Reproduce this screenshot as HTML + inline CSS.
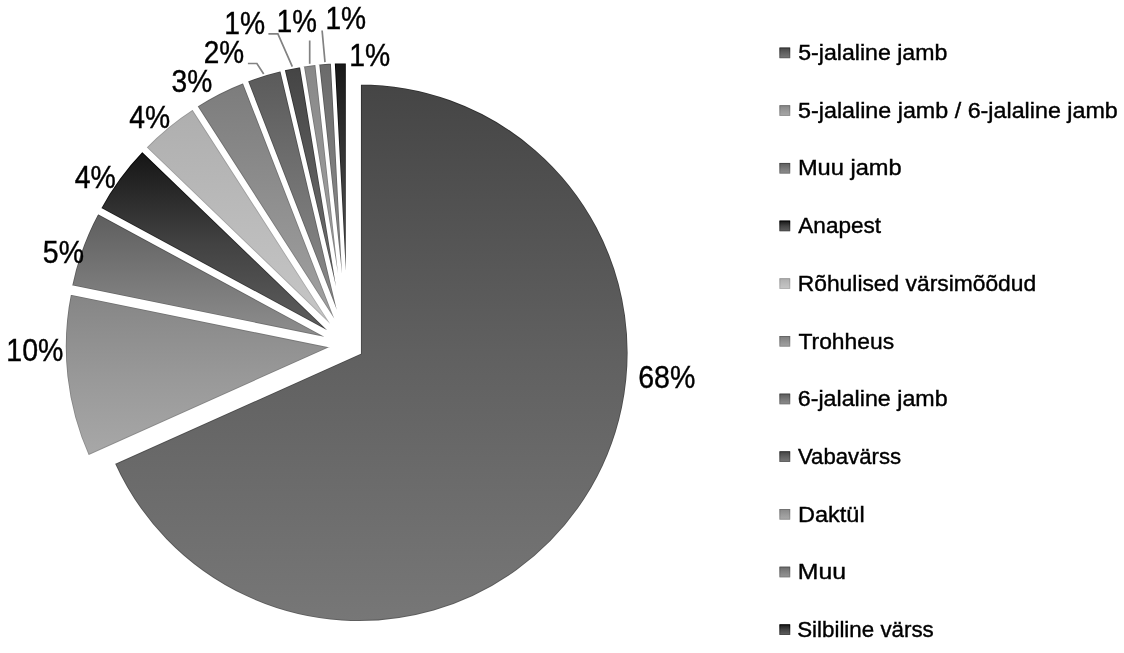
<!DOCTYPE html>
<html><head><meta charset="utf-8"><title>Värsimõõdud</title>
<style>
html,body{margin:0;padding:0;background:#fff}
svg{display:block}
text{font-family:"Liberation Sans",sans-serif;fill:#000}
</style></head><body>
<svg width="1124" height="653" viewBox="0 0 1124 653">
<defs><linearGradient id="g0" gradientUnits="userSpaceOnUse" x1="0" y1="82.85" x2="0" y2="622.55"><stop offset="0" stop-color="#454545"/><stop offset="0.5" stop-color="#606060"/><stop offset="1" stop-color="#777777"/></linearGradient><linearGradient id="r0" gradientUnits="userSpaceOnUse" x1="0" y1="82.85" x2="0" y2="622.55"><stop offset="0" stop-color="#2d2d2d"/><stop offset="0.5" stop-color="#484848"/><stop offset="1" stop-color="#5f5f5f"/></linearGradient><clipPath id="c0"><path d="M359.34 352.70L359.34 82.85A269.85 269.85 0 1 1 113.11 463.10Z"/></clipPath><linearGradient id="g1" gradientUnits="userSpaceOnUse" x1="0" y1="292.92" x2="0" y2="457.12"><stop offset="0" stop-color="#858585"/><stop offset="0.5" stop-color="#989898"/><stop offset="1" stop-color="#a8a8a8"/></linearGradient><linearGradient id="r1" gradientUnits="userSpaceOnUse" x1="0" y1="292.92" x2="0" y2="457.12"><stop offset="0" stop-color="#6d6d6d"/><stop offset="0.5" stop-color="#808080"/><stop offset="1" stop-color="#909090"/></linearGradient><clipPath id="c1"><path d="M334.04 346.72L87.81 457.12A269.85 269.85 0 0 1 69.61 292.92Z"/></clipPath><linearGradient id="g2" gradientUnits="userSpaceOnUse" x1="0" y1="212.14" x2="0" y2="340.49"><stop offset="0" stop-color="#5d5d5d"/><stop offset="0.5" stop-color="#777777"/><stop offset="1" stop-color="#8f8f8f"/></linearGradient><linearGradient id="r2" gradientUnits="userSpaceOnUse" x1="0" y1="212.14" x2="0" y2="340.49"><stop offset="0" stop-color="#454545"/><stop offset="0.5" stop-color="#5f5f5f"/><stop offset="1" stop-color="#777777"/></linearGradient><clipPath id="c2"><path d="M334.79 340.49L70.36 286.69A269.85 269.85 0 0 1 97.41 212.14Z"/></clipPath><linearGradient id="g3" gradientUnits="userSpaceOnUse" x1="0" y1="149.94" x2="0" y2="337.06"><stop offset="0" stop-color="#141414"/><stop offset="0.5" stop-color="#424242"/><stop offset="1" stop-color="#606060"/></linearGradient><linearGradient id="r3" gradientUnits="userSpaceOnUse" x1="0" y1="149.94" x2="0" y2="337.06"><stop offset="0" stop-color="#000000"/><stop offset="0.5" stop-color="#2a2a2a"/><stop offset="1" stop-color="#484848"/></linearGradient><clipPath id="c3"><path d="M336.62 337.06L99.24 208.71A269.85 269.85 0 0 1 142.18 149.94Z"/></clipPath><linearGradient id="g4" gradientUnits="userSpaceOnUse" x1="0" y1="107.59" x2="0" y2="334.54"><stop offset="0" stop-color="#aeaeae"/><stop offset="0.5" stop-color="#bbbbbb"/><stop offset="1" stop-color="#c7c7c7"/></linearGradient><linearGradient id="r4" gradientUnits="userSpaceOnUse" x1="0" y1="107.59" x2="0" y2="334.54"><stop offset="0" stop-color="#969696"/><stop offset="0.5" stop-color="#a3a3a3"/><stop offset="1" stop-color="#afafaf"/></linearGradient><clipPath id="c4"><path d="M339.00 334.54L144.56 147.43A269.85 269.85 0 0 1 193.01 107.59Z"/></clipPath><linearGradient id="g5" gradientUnits="userSpaceOnUse" x1="0" y1="81.31" x2="0" y2="332.90"><stop offset="0" stop-color="#7c7c7c"/><stop offset="0.5" stop-color="#909090"/><stop offset="1" stop-color="#a3a3a3"/></linearGradient><linearGradient id="r5" gradientUnits="userSpaceOnUse" x1="0" y1="81.31" x2="0" y2="332.90"><stop offset="0" stop-color="#646464"/><stop offset="0.5" stop-color="#787878"/><stop offset="1" stop-color="#8b8b8b"/></linearGradient><clipPath id="c5"><path d="M341.50 332.90L195.52 105.95A269.85 269.85 0 0 1 243.92 81.31Z"/></clipPath><linearGradient id="g6" gradientUnits="userSpaceOnUse" x1="0" y1="69.41" x2="0" y2="332.02"><stop offset="0" stop-color="#5a5a5a"/><stop offset="0.5" stop-color="#767676"/><stop offset="1" stop-color="#8e8e8e"/></linearGradient><linearGradient id="r6" gradientUnits="userSpaceOnUse" x1="0" y1="69.41" x2="0" y2="332.02"><stop offset="0" stop-color="#424242"/><stop offset="0.5" stop-color="#5e5e5e"/><stop offset="1" stop-color="#767676"/></linearGradient><clipPath id="c6"><path d="M343.67 332.02L246.08 80.43A269.85 269.85 0 0 1 281.59 69.41Z"/></clipPath><linearGradient id="g7" gradientUnits="userSpaceOnUse" x1="0" y1="65.38" x2="0" y2="331.67"><stop offset="0" stop-color="#444444"/><stop offset="0.5" stop-color="#606060"/><stop offset="1" stop-color="#787878"/></linearGradient><linearGradient id="r7" gradientUnits="userSpaceOnUse" x1="0" y1="65.38" x2="0" y2="331.67"><stop offset="0" stop-color="#2c2c2c"/><stop offset="0.5" stop-color="#484848"/><stop offset="1" stop-color="#606060"/></linearGradient><clipPath id="c7"><path d="M345.05 331.67L282.97 69.06A269.85 269.85 0 0 1 301.35 65.38Z"/></clipPath><linearGradient id="g8" gradientUnits="userSpaceOnUse" x1="0" y1="63.25" x2="0" y2="331.53"><stop offset="0" stop-color="#888888"/><stop offset="0.5" stop-color="#9a9a9a"/><stop offset="1" stop-color="#aaaaaa"/></linearGradient><linearGradient id="r8" gradientUnits="userSpaceOnUse" x1="0" y1="63.25" x2="0" y2="331.53"><stop offset="0" stop-color="#707070"/><stop offset="0.5" stop-color="#828282"/><stop offset="1" stop-color="#929292"/></linearGradient><clipPath id="c8"><path d="M345.90 331.53L302.19 65.24A269.85 269.85 0 0 1 316.75 63.25Z"/></clipPath><linearGradient id="g9" gradientUnits="userSpaceOnUse" x1="0" y1="61.97" x2="0" y2="331.44"><stop offset="0" stop-color="#6a6a6a"/><stop offset="0.5" stop-color="#828282"/><stop offset="1" stop-color="#969696"/></linearGradient><linearGradient id="r9" gradientUnits="userSpaceOnUse" x1="0" y1="61.97" x2="0" y2="331.44"><stop offset="0" stop-color="#525252"/><stop offset="0.5" stop-color="#6a6a6a"/><stop offset="1" stop-color="#7e7e7e"/></linearGradient><clipPath id="c9"><path d="M346.65 331.44L317.51 63.17A269.85 269.85 0 0 1 332.39 61.97Z"/></clipPath><linearGradient id="g10" gradientUnits="userSpaceOnUse" x1="0" y1="61.55" x2="0" y2="331.40"><stop offset="0" stop-color="#181818"/><stop offset="0.5" stop-color="#424242"/><stop offset="1" stop-color="#606060"/></linearGradient><linearGradient id="r10" gradientUnits="userSpaceOnUse" x1="0" y1="61.55" x2="0" y2="331.40"><stop offset="0" stop-color="#000000"/><stop offset="0.5" stop-color="#2a2a2a"/><stop offset="1" stop-color="#484848"/></linearGradient><clipPath id="c10"><path d="M347.40 331.40L333.13 61.93A269.85 269.85 0 0 1 347.40 61.55Z"/></clipPath><linearGradient id="m0" x1="0" y1="0" x2="0" y2="1"><stop offset="0" stop-color="#454545"/><stop offset="0.5" stop-color="#606060"/><stop offset="1" stop-color="#777777"/></linearGradient><linearGradient id="n0" x1="0" y1="0" x2="0" y2="1"><stop offset="0" stop-color="#2d2d2d"/><stop offset="0.5" stop-color="#484848"/><stop offset="1" stop-color="#5f5f5f"/></linearGradient><linearGradient id="m1" x1="0" y1="0" x2="0" y2="1"><stop offset="0" stop-color="#858585"/><stop offset="0.5" stop-color="#989898"/><stop offset="1" stop-color="#a8a8a8"/></linearGradient><linearGradient id="n1" x1="0" y1="0" x2="0" y2="1"><stop offset="0" stop-color="#6d6d6d"/><stop offset="0.5" stop-color="#808080"/><stop offset="1" stop-color="#909090"/></linearGradient><linearGradient id="m2" x1="0" y1="0" x2="0" y2="1"><stop offset="0" stop-color="#5d5d5d"/><stop offset="0.5" stop-color="#777777"/><stop offset="1" stop-color="#8f8f8f"/></linearGradient><linearGradient id="n2" x1="0" y1="0" x2="0" y2="1"><stop offset="0" stop-color="#454545"/><stop offset="0.5" stop-color="#5f5f5f"/><stop offset="1" stop-color="#777777"/></linearGradient><linearGradient id="m3" x1="0" y1="0" x2="0" y2="1"><stop offset="0" stop-color="#141414"/><stop offset="0.5" stop-color="#424242"/><stop offset="1" stop-color="#606060"/></linearGradient><linearGradient id="n3" x1="0" y1="0" x2="0" y2="1"><stop offset="0" stop-color="#000000"/><stop offset="0.5" stop-color="#2a2a2a"/><stop offset="1" stop-color="#484848"/></linearGradient><linearGradient id="m4" x1="0" y1="0" x2="0" y2="1"><stop offset="0" stop-color="#aeaeae"/><stop offset="0.5" stop-color="#bbbbbb"/><stop offset="1" stop-color="#c7c7c7"/></linearGradient><linearGradient id="n4" x1="0" y1="0" x2="0" y2="1"><stop offset="0" stop-color="#969696"/><stop offset="0.5" stop-color="#a3a3a3"/><stop offset="1" stop-color="#afafaf"/></linearGradient><linearGradient id="m5" x1="0" y1="0" x2="0" y2="1"><stop offset="0" stop-color="#7c7c7c"/><stop offset="0.5" stop-color="#909090"/><stop offset="1" stop-color="#a3a3a3"/></linearGradient><linearGradient id="n5" x1="0" y1="0" x2="0" y2="1"><stop offset="0" stop-color="#646464"/><stop offset="0.5" stop-color="#787878"/><stop offset="1" stop-color="#8b8b8b"/></linearGradient><linearGradient id="m6" x1="0" y1="0" x2="0" y2="1"><stop offset="0" stop-color="#5a5a5a"/><stop offset="0.5" stop-color="#767676"/><stop offset="1" stop-color="#8e8e8e"/></linearGradient><linearGradient id="n6" x1="0" y1="0" x2="0" y2="1"><stop offset="0" stop-color="#424242"/><stop offset="0.5" stop-color="#5e5e5e"/><stop offset="1" stop-color="#767676"/></linearGradient><linearGradient id="m7" x1="0" y1="0" x2="0" y2="1"><stop offset="0" stop-color="#444444"/><stop offset="0.5" stop-color="#606060"/><stop offset="1" stop-color="#787878"/></linearGradient><linearGradient id="n7" x1="0" y1="0" x2="0" y2="1"><stop offset="0" stop-color="#2c2c2c"/><stop offset="0.5" stop-color="#484848"/><stop offset="1" stop-color="#606060"/></linearGradient><linearGradient id="m8" x1="0" y1="0" x2="0" y2="1"><stop offset="0" stop-color="#888888"/><stop offset="0.5" stop-color="#9a9a9a"/><stop offset="1" stop-color="#aaaaaa"/></linearGradient><linearGradient id="n8" x1="0" y1="0" x2="0" y2="1"><stop offset="0" stop-color="#707070"/><stop offset="0.5" stop-color="#828282"/><stop offset="1" stop-color="#929292"/></linearGradient><linearGradient id="m9" x1="0" y1="0" x2="0" y2="1"><stop offset="0" stop-color="#6a6a6a"/><stop offset="0.5" stop-color="#828282"/><stop offset="1" stop-color="#969696"/></linearGradient><linearGradient id="n9" x1="0" y1="0" x2="0" y2="1"><stop offset="0" stop-color="#525252"/><stop offset="0.5" stop-color="#6a6a6a"/><stop offset="1" stop-color="#7e7e7e"/></linearGradient><linearGradient id="m10" x1="0" y1="0" x2="0" y2="1"><stop offset="0" stop-color="#181818"/><stop offset="0.5" stop-color="#424242"/><stop offset="1" stop-color="#606060"/></linearGradient><linearGradient id="n10" x1="0" y1="0" x2="0" y2="1"><stop offset="0" stop-color="#000000"/><stop offset="0.5" stop-color="#2a2a2a"/><stop offset="1" stop-color="#484848"/></linearGradient></defs>
<rect width="1124" height="653" fill="#fff"/>
<g><path d="M359.34 352.70L359.34 82.85A269.85 269.85 0 1 1 113.11 463.10Z" fill="url(#g0)"/><path d="M359.34 352.70L359.34 82.85A269.85 269.85 0 1 1 113.11 463.10Z" fill="none" stroke="url(#r0)" stroke-width="5.0" clip-path="url(#c0)"/><path d="M359.34 352.70L359.34 82.85A269.85 269.85 0 1 1 113.11 463.10Z" fill="none" stroke="#fff" stroke-width="3.2" stroke-linejoin="miter"/><path d="M334.04 346.72L87.81 457.12A269.85 269.85 0 0 1 69.61 292.92Z" fill="url(#g1)"/><path d="M334.04 346.72L87.81 457.12A269.85 269.85 0 0 1 69.61 292.92Z" fill="none" stroke="url(#r1)" stroke-width="5.0" clip-path="url(#c1)"/><path d="M334.04 346.72L87.81 457.12A269.85 269.85 0 0 1 69.61 292.92Z" fill="none" stroke="#fff" stroke-width="3.2" stroke-linejoin="miter"/><path d="M334.79 340.49L70.36 286.69A269.85 269.85 0 0 1 97.41 212.14Z" fill="url(#g2)"/><path d="M334.79 340.49L70.36 286.69A269.85 269.85 0 0 1 97.41 212.14Z" fill="none" stroke="url(#r2)" stroke-width="5.0" clip-path="url(#c2)"/><path d="M334.79 340.49L70.36 286.69A269.85 269.85 0 0 1 97.41 212.14Z" fill="none" stroke="#fff" stroke-width="3.2" stroke-linejoin="miter"/><path d="M336.62 337.06L99.24 208.71A269.85 269.85 0 0 1 142.18 149.94Z" fill="url(#g3)"/><path d="M336.62 337.06L99.24 208.71A269.85 269.85 0 0 1 142.18 149.94Z" fill="none" stroke="url(#r3)" stroke-width="5.0" clip-path="url(#c3)"/><path d="M336.62 337.06L99.24 208.71A269.85 269.85 0 0 1 142.18 149.94Z" fill="none" stroke="#fff" stroke-width="3.2" stroke-linejoin="miter"/><path d="M339.00 334.54L144.56 147.43A269.85 269.85 0 0 1 193.01 107.59Z" fill="url(#g4)"/><path d="M339.00 334.54L144.56 147.43A269.85 269.85 0 0 1 193.01 107.59Z" fill="none" stroke="url(#r4)" stroke-width="5.0" clip-path="url(#c4)"/><path d="M339.00 334.54L144.56 147.43A269.85 269.85 0 0 1 193.01 107.59Z" fill="none" stroke="#fff" stroke-width="3.2" stroke-linejoin="miter"/><path d="M341.50 332.90L195.52 105.95A269.85 269.85 0 0 1 243.92 81.31Z" fill="url(#g5)"/><path d="M341.50 332.90L195.52 105.95A269.85 269.85 0 0 1 243.92 81.31Z" fill="none" stroke="url(#r5)" stroke-width="5.0" clip-path="url(#c5)"/><path d="M341.50 332.90L195.52 105.95A269.85 269.85 0 0 1 243.92 81.31Z" fill="none" stroke="#fff" stroke-width="3.2" stroke-linejoin="miter"/><path d="M343.67 332.02L246.08 80.43A269.85 269.85 0 0 1 281.59 69.41Z" fill="url(#g6)"/><path d="M343.67 332.02L246.08 80.43A269.85 269.85 0 0 1 281.59 69.41Z" fill="none" stroke="url(#r6)" stroke-width="5.0" clip-path="url(#c6)"/><path d="M343.67 332.02L246.08 80.43A269.85 269.85 0 0 1 281.59 69.41Z" fill="none" stroke="#fff" stroke-width="3.2" stroke-linejoin="miter"/><path d="M345.05 331.67L282.97 69.06A269.85 269.85 0 0 1 301.35 65.38Z" fill="url(#g7)"/><path d="M345.05 331.67L282.97 69.06A269.85 269.85 0 0 1 301.35 65.38Z" fill="none" stroke="url(#r7)" stroke-width="5.0" clip-path="url(#c7)"/><path d="M345.05 331.67L282.97 69.06A269.85 269.85 0 0 1 301.35 65.38Z" fill="none" stroke="#fff" stroke-width="3.2" stroke-linejoin="miter"/><path d="M345.90 331.53L302.19 65.24A269.85 269.85 0 0 1 316.75 63.25Z" fill="url(#g8)"/><path d="M345.90 331.53L302.19 65.24A269.85 269.85 0 0 1 316.75 63.25Z" fill="none" stroke="url(#r8)" stroke-width="5.0" clip-path="url(#c8)"/><path d="M345.90 331.53L302.19 65.24A269.85 269.85 0 0 1 316.75 63.25Z" fill="none" stroke="#fff" stroke-width="3.2" stroke-linejoin="miter"/><path d="M346.65 331.44L317.51 63.17A269.85 269.85 0 0 1 332.39 61.97Z" fill="url(#g9)"/><path d="M346.65 331.44L317.51 63.17A269.85 269.85 0 0 1 332.39 61.97Z" fill="none" stroke="url(#r9)" stroke-width="5.0" clip-path="url(#c9)"/><path d="M346.65 331.44L317.51 63.17A269.85 269.85 0 0 1 332.39 61.97Z" fill="none" stroke="#fff" stroke-width="3.2" stroke-linejoin="miter"/><path d="M347.40 331.40L333.13 61.93A269.85 269.85 0 0 1 347.40 61.55Z" fill="url(#g10)"/><path d="M347.40 331.40L333.13 61.93A269.85 269.85 0 0 1 347.40 61.55Z" fill="none" stroke="url(#r10)" stroke-width="5.0" clip-path="url(#c10)"/><path d="M347.40 331.40L333.13 61.93A269.85 269.85 0 0 1 347.40 61.55Z" fill="none" stroke="#fff" stroke-width="3.2" stroke-linejoin="miter"/></g>
<g><path d="M247.9 63.5H256.9L263.7 74" fill="none" stroke="#828282" stroke-width="1.7"/><path d="M268.4 33.8H277.9L292.3 66.7" fill="none" stroke="#828282" stroke-width="1.7"/><path d="M309.7 40.5V63.8" fill="none" stroke="#828282" stroke-width="1.7"/><path d="M322.1 30.5L325.0 62.2" fill="none" stroke="#828282" stroke-width="1.7"/></g>
<g><text transform="translate(638.17 388.40) scale(0.9207 1)" font-size="31.0" stroke="#000" stroke-width="0.4">68%</text><text transform="translate(6.32 360.75) scale(0.9200 1)" font-size="31.0" stroke="#000" stroke-width="0.4">10%</text><text transform="translate(42.86 262.70) scale(0.9183 1)" font-size="31.0" stroke="#000" stroke-width="0.4">5%</text><text transform="translate(74.68 187.75) scale(0.9167 1)" font-size="31.0" stroke="#000" stroke-width="0.4">4%</text><text transform="translate(129.23 127.75) scale(0.9120 1)" font-size="31.0" stroke="#000" stroke-width="0.4">4%</text><text transform="translate(171.57 92.40) scale(0.9089 1)" font-size="31.0" stroke="#000" stroke-width="0.4">3%</text><text transform="translate(203.80 63.45) scale(0.9025 1)" font-size="31.0" stroke="#000" stroke-width="0.4">2%</text><text transform="translate(224.34 33.75) scale(0.9120 1)" font-size="31.0" stroke="#000" stroke-width="0.4">1%</text><text transform="translate(276.73 31.60) scale(0.8962 1)" font-size="31.0" stroke="#000" stroke-width="0.4">1%</text><text transform="translate(325.44 28.70) scale(0.9095 1)" font-size="31.0" stroke="#000" stroke-width="0.4">1%</text><text transform="translate(349.33 65.60) scale(0.9144 1)" font-size="31.0" stroke="#000" stroke-width="0.4">1%</text></g>
<g><text transform="translate(798.17 60.10) scale(1.0246 1)" font-size="22.6" stroke="#000" stroke-width="0.4">5-jalaline jamb</text><rect x="779.5" y="47.60" width="10.65" height="10.55" fill="url(#m0)"/><rect x="779.95" y="48.05" width="9.75" height="9.65" fill="none" stroke="url(#n0)" stroke-width="0.9"/><text transform="translate(798.07 117.78) scale(1.0312 1)" font-size="22.6" stroke="#000" stroke-width="0.4">5-jalaline jamb / 6-jalaline jamb</text><rect x="779.5" y="105.28" width="10.65" height="10.55" fill="url(#m1)"/><rect x="779.95" y="105.73" width="9.75" height="9.65" fill="none" stroke="url(#n1)" stroke-width="0.9"/><text transform="translate(797.91 175.46) scale(1.0456 1)" font-size="22.6" stroke="#000" stroke-width="0.4">Muu jamb</text><rect x="779.5" y="162.96" width="10.65" height="10.55" fill="url(#m2)"/><rect x="779.95" y="163.41" width="9.75" height="9.65" fill="none" stroke="url(#n2)" stroke-width="0.9"/><text transform="translate(798.30 233.14) scale(0.9986 1)" font-size="22.6" stroke="#000" stroke-width="0.4">Anapest</text><rect x="779.5" y="220.64" width="10.65" height="10.55" fill="url(#m3)"/><rect x="779.95" y="221.09" width="9.75" height="9.65" fill="none" stroke="url(#n3)" stroke-width="0.9"/><text transform="translate(797.77 290.82) scale(1.0098 1)" font-size="22.6" stroke="#000" stroke-width="0.4">Rõhulised värsimõõdud</text><rect x="779.5" y="278.32" width="10.65" height="10.55" fill="url(#m4)"/><rect x="779.95" y="278.77" width="9.75" height="9.65" fill="none" stroke="url(#n4)" stroke-width="0.9"/><text transform="translate(798.44 348.50) scale(1.0114 1)" font-size="22.6" stroke="#000" stroke-width="0.4">Trohheus</text><rect x="779.5" y="336.00" width="10.65" height="10.55" fill="url(#m5)"/><rect x="779.95" y="336.45" width="9.75" height="9.65" fill="none" stroke="url(#n5)" stroke-width="0.9"/><text transform="translate(797.74 406.18) scale(1.0290 1)" font-size="22.6" stroke="#000" stroke-width="0.4">6-jalaline jamb</text><rect x="779.5" y="393.68" width="10.65" height="10.55" fill="url(#m6)"/><rect x="779.95" y="394.13" width="9.75" height="9.65" fill="none" stroke="url(#n6)" stroke-width="0.9"/><text transform="translate(797.98 463.86) scale(0.9821 1)" font-size="22.6" stroke="#000" stroke-width="0.4">Vabavärss</text><rect x="779.5" y="451.36" width="10.65" height="10.55" fill="url(#m7)"/><rect x="779.95" y="451.81" width="9.75" height="9.65" fill="none" stroke="url(#n7)" stroke-width="0.9"/><text transform="translate(797.91 521.54) scale(1.0429 1)" font-size="22.6" stroke="#000" stroke-width="0.4">Daktül</text><rect x="779.5" y="509.04" width="10.65" height="10.55" fill="url(#m8)"/><rect x="779.95" y="509.49" width="9.75" height="9.65" fill="none" stroke="url(#n8)" stroke-width="0.9"/><text transform="translate(797.82 579.22) scale(1.0964 1)" font-size="22.6" stroke="#000" stroke-width="0.4">Muu</text><rect x="779.5" y="566.72" width="10.65" height="10.55" fill="url(#m9)"/><rect x="779.95" y="567.17" width="9.75" height="9.65" fill="none" stroke="url(#n9)" stroke-width="0.9"/><text transform="translate(797.18 636.90) scale(0.9892 1)" font-size="22.6" stroke="#000" stroke-width="0.4">Silbiline värss</text><rect x="779.5" y="624.40" width="10.65" height="10.55" fill="url(#m10)"/><rect x="779.95" y="624.85" width="9.75" height="9.65" fill="none" stroke="url(#n10)" stroke-width="0.9"/></g>
</svg>
</body></html>
